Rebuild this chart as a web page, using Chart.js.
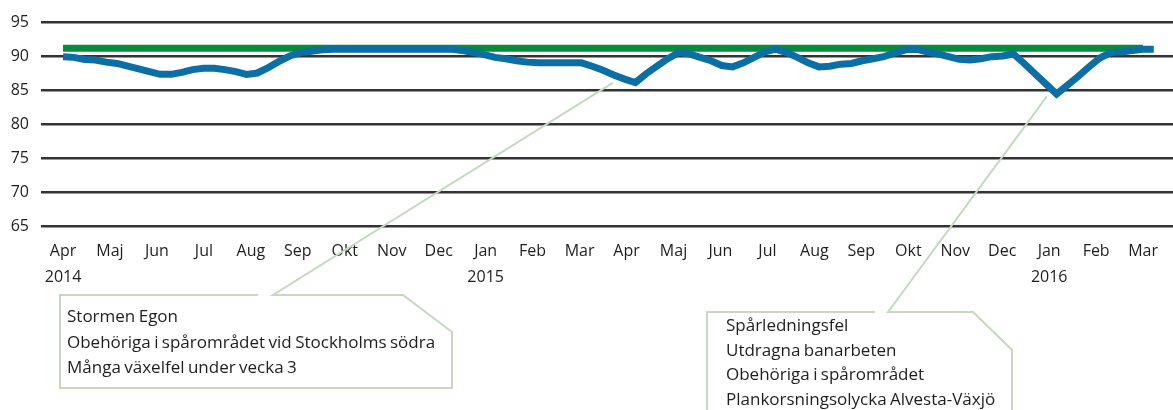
<!DOCTYPE html>
<html>
<head>
<meta charset="utf-8">
<script src="https://cdn.jsdelivr.net/npm/chart.js@4.4.1/dist/chart.umd.min.js"></script>
<style>
  html, body { margin: 0; padding: 0; background: #ffffff; }
  #wrap { position: relative; width: 1173px; height: 410px; }
  canvas { display: block; }
</style>
</head>
<body>
<div id="wrap"><canvas id="c" width="1173" height="410"></canvas></div>
<script>
// ---- Data ----
const monthLabels = ['Apr','Maj','Jun','Jul','Aug','Sep','Okt','Nov','Dec','Jan','Feb','Mar',
                     'Apr','Maj','Jun','Jul','Aug','Sep','Okt','Nov','Dec','Jan','Feb','Mar'];
const yearLabels  = ['2014','','','','','','','','','2015','','',
                     '','','','','','','','','','2016','',''];

// weekly punctuality values (%), week 0 = first week of April 2014
const weeklyValues = [
  89.9,89.8,89.5,89.4,89.1,88.9,88.5,88.1,87.7,87.3,
  87.3,87.6,88.0,88.2,88.2,88.0,87.7,87.3,87.5,88.3,
  89.2,90.0,90.5,90.7,90.9,91.0,91.0,91.0,91.0,91.0,
  91.0,91.0,91.0,91.0,91.0,91.0,91.0,90.8,90.5,90.2,
  89.8,89.6,89.3,89.1,89.0,89.0,89.0,89.0,89.0,88.5,
  87.9,87.2,86.6,86.1,87.4,88.5,89.6,90.5,90.3,89.8,
  89.3,88.6,88.4,89.0,89.8,90.6,91.0,90.5,89.8,89.0,
  88.4,88.5,88.8,88.9,89.3,89.6,89.9,90.4,90.9,91.0,
  90.6,90.3,89.9,89.5,89.4,89.6,89.9,90.0,90.3,88.9,
  87.4,85.9,84.4,85.7,87.0,88.4,89.7,90.5,90.6,90.8,
  91.0,91.0
];
const targetValue = 91.15;
const targetStartWeek = 0;
const targetEndWeek = 100;

const yMin = 65, yMax = 95, yStep = 5;

const callout1Lines = ['Stormen Egon','Obehöriga i spårområdet vid Stockholms södra','Många växelfel under vecka 3'];
const callout1Tip = { week: 50.9, value: 86.05 };
const callout2Lines = ['Spårledningsfel','Utdragna banarbeten','Obehöriga i spårområdet','Plankorsningsolycka Alvesta-Växjö'];
const callout2Tip = { week: 91.1, value: 84.07 };

// ---- Build chart ----
const WEEKS_PER_MONTH = 52.18 / 12;
const FONT = '"Open Sans", "Liberation Sans", sans-serif';
const TEXT_COLOR = '#1e1e1e';
const CALLOUT_COLOR = '#c4d9c0';

const bluePoints = weeklyValues.map((v, i) => ({ x: i, y: v }));
const greenPoints = [{ x: targetStartWeek, y: targetValue }, { x: targetEndWeek, y: targetValue }];

const calloutPlugin = {
  id: 'callouts',
  afterDraw(chart) {
    const ctx = chart.ctx;
    const xs = chart.scales.x, ys = chart.scales.y;
    ctx.save();
    ctx.strokeStyle = CALLOUT_COLOR;
    ctx.lineWidth = 2;
    ctx.lineJoin = 'miter';

    // callout 1
    const t1x = xs.getPixelForValue(callout1Tip.week), t1y = ys.getPixelForValue(callout1Tip.value);
    ctx.beginPath();
    ctx.moveTo(258, 295);
    ctx.lineTo(60, 295);
    ctx.lineTo(60, 388);
    ctx.lineTo(452, 388);
    ctx.lineTo(452, 332);
    ctx.lineTo(403, 295);
    ctx.lineTo(273, 295);
    ctx.lineTo(t1x, t1y);
    ctx.stroke();

    // callout 2
    const t2x = xs.getPixelForValue(callout2Tip.week), t2y = ys.getPixelForValue(callout2Tip.value);
    ctx.beginPath();
    ctx.moveTo(875, 312);
    ctx.lineTo(707, 312);
    ctx.lineTo(707, 420);
    ctx.moveTo(1012, 420);
    ctx.lineTo(1012, 350);
    ctx.lineTo(973, 312);
    ctx.lineTo(888, 312);
    ctx.lineTo(t2x, t2y);
    ctx.stroke();

    ctx.fillStyle = TEXT_COLOR;
    ctx.font = '17px ' + FONT;
    ctx.textBaseline = 'alphabetic';
    ctx.textAlign = 'left';
    try { ctx.wordSpacing = '-1px'; } catch (e) {}
    callout1Lines.forEach((s, i) => ctx.fillText(s, 67, 322 + i * 25.7));
    callout2Lines.forEach((s, i) => ctx.fillText(s, 726, 330.7 + i * 24.8));
    try { ctx.wordSpacing = '0px'; } catch (e) {}
    ctx.restore();
  }
};

new Chart(document.getElementById('c'), {
  type: 'line',
  data: {
    datasets: [
      {
        label: 'Punktlighet',
        data: bluePoints,
        borderColor: '#0b6ea5',
        borderWidth: 7,
        pointRadius: 0,
        tension: 0,
        fill: false
      },
      {
        label: 'Mål',
        data: greenPoints,
        borderColor: '#078c3b',
        borderWidth: 7,
        pointRadius: 0,
        tension: 0,
        fill: false
      }
    ]
  },
  options: {
    responsive: false,
    animation: false,
    devicePixelRatio: 1,
    layout: { padding: { top: 22, left: 0, right: 0, bottom: 0 } },
    plugins: { legend: { display: false }, tooltip: { enabled: false } },
    scales: {
      x: {
        type: 'linear',
        min: -2.04,
        max: 102.78,
        grid: { display: false, drawTicks: false, tickLength: 0 },
        border: { display: false },
        afterBuildTicks: (scale) => {
          scale.ticks = monthLabels.map((_, i) => ({ value: i * WEEKS_PER_MONTH }));
        },
        afterFit: (scale) => { scale.height = 410 - 226; },
        ticks: {
          autoSkip: false,
          maxRotation: 0,
          minRotation: 0,
          padding: 13,
          color: TEXT_COLOR,
          font: { family: FONT, size: 16, lineHeight: 1.6 },
          callback: (value, index) => yearLabels[index] ? [monthLabels[index], yearLabels[index]] : monthLabels[index]
        }
      },
      y: {
        min: yMin,
        max: yMax,
        grid: { color: '#333333', lineWidth: 2.6, drawTicks: false },
        border: { display: false },
        afterFit: (scale) => { scale.width = 41; },
        ticks: {
          stepSize: yStep,
          padding: 12,
          color: TEXT_COLOR,
          font: { family: FONT, size: 16 }
        }
      }
    }
  },
  plugins: [calloutPlugin]
});
</script>
</body>
</html>
